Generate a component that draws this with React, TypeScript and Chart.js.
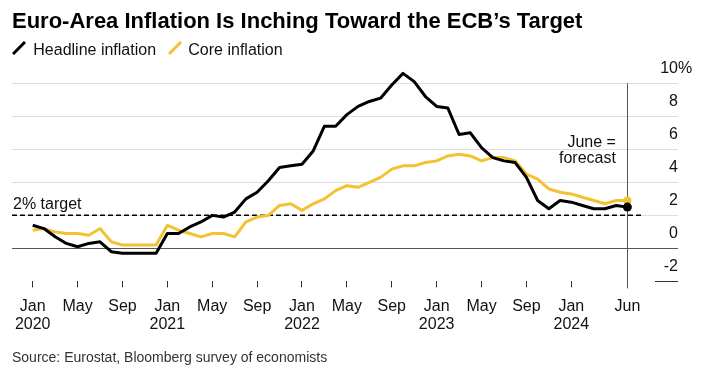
import React, { useEffect, useRef } from "react";
import { Chart, registerables } from "chart.js";

Chart.register(...registerables);

const FONT = '"Liberation Sans", Arial, Helvetica, sans-serif';

const titleText = "Euro-Area Inflation Is Inching Toward the ECB\u2019s Target";
const sourceText = "Source: Eurostat, Bloomberg survey of economists";
const seriesNames = ["Headline inflation", "Core inflation"];
const seriesColors = ["#000000", "#f2c232"];

const monthNames = ["Jan", "Feb", "Mar", "Apr", "May", "Jun", "Jul", "Aug", "Sep", "Oct", "Nov", "Dec"];
const startYear = 2020;

// Monthly values Jan 2020 .. Jun 2024 (June 2024 = forecast)
const headline = [
  1.4, 1.2, 0.7, 0.3, 0.1, 0.3, 0.4, -0.2, -0.3, -0.3, -0.3, -0.3,
  0.9, 0.9, 1.3, 1.6, 2.0, 1.9, 2.2, 3.0, 3.4, 4.1, 4.9, 5.0,
  5.1, 5.9, 7.4, 7.4, 8.1, 8.6, 8.9, 9.1, 9.9, 10.6, 10.1, 9.2,
  8.6, 8.5, 6.9, 7.0, 6.1, 5.5, 5.3, 5.2, 4.3, 2.9, 2.4, 2.9,
  2.8, 2.6, 2.4, 2.4, 2.6, 2.5,
];
const core = [
  1.1, 1.2, 1.0, 0.9, 0.9, 0.8, 1.2, 0.4, 0.2, 0.2, 0.2, 0.2,
  1.4, 1.1, 0.9, 0.7, 0.9, 0.9, 0.7, 1.6, 1.9, 2.0, 2.6, 2.7,
  2.3, 2.7, 3.0, 3.5, 3.8, 3.7, 4.0, 4.3, 4.8, 5.0, 5.0, 5.2,
  5.3, 5.6, 5.7, 5.6, 5.3, 5.5, 5.5, 5.3, 4.5, 4.2, 3.6, 3.4,
  3.3, 3.1, 2.9, 2.7, 2.9, 2.9,
];

const xTickMonths = [0, 4, 8, 12, 16, 20, 24, 28, 32, 36, 40, 44, 48, 53];
const yTickValues = [10, 8, 6, 4, 2, 0, -2];
const targetValue = 2;
const targetLabel = "2% target";
const forecastLabel = ["June =", "forecast"];

const annotationPlugin = {
  id: "bbgAnnotations",
  beforeDatasetsDraw(chart: any) {
    const { ctx, chartArea, scales } = chart;
    const x = scales.x;
    const y = scales.y;
    ctx.save();
    ctx.lineWidth = 1;
    for (const v of yTickValues) {
      const py = Math.round(y.getPixelForValue(v)) + 0.5;
      if (v === 0) {
        ctx.strokeStyle = "#555555";
        ctx.beginPath();
        ctx.moveTo(chartArea.left, py);
        ctx.lineTo(chartArea.right, py);
        ctx.stroke();
      } else if (v === yTickValues[yTickValues.length - 1]) {
        ctx.strokeStyle = "#333333";
        ctx.beginPath();
        ctx.moveTo(chartArea.right - 23, py);
        ctx.lineTo(chartArea.right, py);
        ctx.stroke();
      } else {
        ctx.strokeStyle = "#dedede";
        ctx.beginPath();
        ctx.moveTo(chartArea.left, py);
        ctx.lineTo(chartArea.right, py);
        ctx.stroke();
      }
    }
    const lastIdx = headline.length - 1;
    const vx = Math.round(x.getPixelForValue(lastIdx)) + 0.5;
    ctx.strokeStyle = "#555555";
    ctx.beginPath();
    ctx.moveTo(vx, y.getPixelForValue(10));
    ctx.lineTo(vx, chartArea.bottom + 7);
    ctx.stroke();
    const ty = y.getPixelForValue(targetValue);
    ctx.strokeStyle = "#000000";
    ctx.lineWidth = 1.5;
    ctx.setLineDash([5, 3]);
    ctx.beginPath();
    ctx.moveTo(chartArea.left, ty);
    ctx.lineTo(vx + 16, ty);
    ctx.stroke();
    ctx.setLineDash([]);
    ctx.restore();
  },
  afterDraw(chart: any) {
    const { ctx, chartArea, scales } = chart;
    const x = scales.x;
    const y = scales.y;
    ctx.save();
    ctx.font = `16px ${FONT}`;
    ctx.fillStyle = "#111111";
    ctx.textBaseline = "middle";
    for (const v of yTickValues) {
      const py = y.getPixelForValue(v) - 15;
      ctx.textAlign = "right";
      ctx.fillText(String(v), chartArea.right, py);
      if (v === yTickValues[0]) {
        ctx.textAlign = "left";
        ctx.fillText("%", chartArea.right, py);
      }
    }
    ctx.textAlign = "left";
    ctx.fillText(targetLabel, chartArea.left + 1, y.getPixelForValue(targetValue) - 11);
    const lastIdx = headline.length - 1;
    const vx = x.getPixelForValue(lastIdx);
    ctx.textAlign = "right";
    const fy = y.getPixelForValue(6) - 7;
    ctx.fillText(forecastLabel[0], vx - 11.5, fy);
    ctx.fillText(forecastLabel[1], vx - 11.5, fy + 16);
    ctx.restore();
  },
};

function LegendIcon({ color, left }: { color: string; left: number }) {
  return (
    <svg
      width={14}
      height={14}
      style={{ position: "absolute", left, top: 41 }}
      viewBox="0 0 14 14"
    >
      <line x1={1} y1={13} x2={13} y2={1} stroke={color} strokeWidth={3} />
    </svg>
  );
}

export default function App() {
  const canvasRef = useRef<HTMLCanvasElement | null>(null);

  useEffect(() => {
    if (!canvasRef.current) return;
    const lastIdx = headline.length - 1;
    const chart = new Chart(canvasRef.current, {
      type: "line",
      data: {
        datasets: [
          {
            label: seriesNames[0],
            data: headline.map((v, i) => ({ x: i, y: v })),
            borderColor: seriesColors[0],
            backgroundColor: seriesColors[0],
            borderWidth: 3,
            pointRadius: (c: any) => (c.dataIndex === lastIdx ? 4.5 : 0),
            pointBorderWidth: 0,
            pointBackgroundColor: seriesColors[0],
            borderJoinStyle: "round",
            tension: 0,
            clip: false,
          },
          {
            label: seriesNames[1],
            data: core.map((v, i) => ({ x: i, y: v })),
            borderColor: seriesColors[1],
            backgroundColor: seriesColors[1],
            borderWidth: 3,
            pointRadius: (c: any) => (c.dataIndex === lastIdx ? 4 : 0),
            pointBorderWidth: 0,
            pointBackgroundColor: seriesColors[1],
            borderJoinStyle: "round",
            tension: 0,
            clip: false,
          },
        ],
      },
      options: {
        animation: false,
        responsive: true,
        maintainAspectRatio: false,
        layout: { padding: { left: 12, right: 32, top: 83.3, bottom: 27.8 } },
        plugins: { legend: { display: false }, tooltip: { enabled: false } },
        scales: {
          x: {
            type: "linear",
            min: -1.845,
            max: 57.51,
            afterBuildTicks: (scale: any) => {
              scale.ticks = xTickMonths.map((v) => ({ value: v }));
            },
            ticks: {
              autoSkip: false,
              maxRotation: 0,
              padding: 10,
              color: "#111111",
              font: { family: FONT, size: 16, lineHeight: 1.15 },
              callback: (value: any) => {
                const v = Number(value);
                const m = ((v % 12) + 12) % 12;
                const yr = startYear + Math.floor(v / 12);
                return m === 0 ? [monthNames[m], String(yr)] : monthNames[m];
              },
            },
            grid: {
              drawOnChartArea: false,
              drawTicks: true,
              tickLength: 6,
              color: "#333333",
              tickColor: "#333333",
            },
            border: { display: false },
          },
          y: {
            type: "linear",
            min: -2,
            max: 10,
            display: false,
          },
        },
      },
      plugins: [annotationPlugin],
    } as any);
    return () => chart.destroy();
  }, []);

  return (
    <div
      style={{
        position: "fixed",
        left: 0,
        top: 0,
        width: 710,
        height: 372,
        background: "#ffffff",
        fontFamily: FONT,
        color: "#000",
      }}
    >
      <div style={{ position: "absolute", left: 0, top: 0, width: 710, height: 372 }}>
        <canvas ref={canvasRef} />
      </div>
      <div
        style={{
          position: "absolute",
          left: 12,
          top: 7.7,
          fontSize: 22,
          lineHeight: "26px",
          fontWeight: "bold",
          whiteSpace: "nowrap",
        }}
      >
        {titleText}
      </div>
      <LegendIcon color={seriesColors[0]} left={12} />
      <div
        style={{ position: "absolute", left: 33.3, top: 40, fontSize: 16, lineHeight: "20px", whiteSpace: "nowrap", color: "#111" }}
      >
        {seriesNames[0]}
      </div>
      <LegendIcon color={seriesColors[1]} left={167.5} />
      <div
        style={{ position: "absolute", left: 188.3, top: 40, fontSize: 16, lineHeight: "20px", whiteSpace: "nowrap", color: "#111" }}
      >
        {seriesNames[1]}
      </div>
      <div
        style={{ position: "absolute", left: 12, top: 349, fontSize: 14, lineHeight: "16px", whiteSpace: "nowrap", color: "#333" }}
      >
        {sourceText}
      </div>
    </div>
  );
}
